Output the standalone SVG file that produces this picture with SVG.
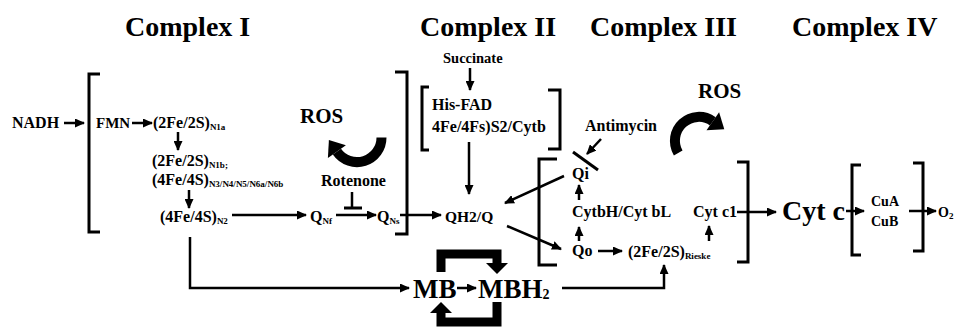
<svg xmlns="http://www.w3.org/2000/svg" width="964" height="328" viewBox="0 0 964 328">
<defs>
<style>
text{font-family:"Liberation Serif","Times New Roman",serif;font-weight:bold;fill:#000}
.title{font-size:28px}
.m{font-size:16px}
.s{font-size:9px}
.br{fill:none;stroke:#000;stroke-width:3}
.ln{fill:none;stroke:#000;stroke-width:2.5}
.ar{fill:none;stroke:#000;stroke-width:2.5;marker-end:url(#ah)}
.thick{fill:none;stroke:#000;stroke-width:9}
.arc{fill:none;stroke:#000;stroke-width:10}
.hd{fill:#000}
</style>
<marker id="ah" markerWidth="10" markerHeight="9" refX="9" refY="4.5" orient="auto" markerUnits="userSpaceOnUse"><path d="M0,0 L10,4.5 L0,9 z" fill="#000"/></marker>
</defs>
<rect width="964" height="328" fill="#fff"/>

<g id="titles">
<text class="title" x="125" y="36">Complex I</text>
<text class="title" x="420" y="36">Complex II</text>
<text class="title" x="590" y="36">Complex III</text>
<text class="title" x="792" y="36">Complex IV</text>
</g>

<g id="brackets">
<path class="br" d="M100,74 H89 V232 H100"/>
<path class="br" d="M395,72 H407 V234 H395"/>
<path class="br" d="M429,87 H422 V150 H429"/>
<path class="br" d="M548,90 H560 V149 H548"/>
<path class="br" d="M557,159 H539 V265 H557"/>
<path class="br" d="M737,162 H748 V262 H737"/>
<path class="br" d="M861,165 H852 V255 H861"/>
<path class="br" d="M913,163 H923 V251 H913"/>
</g>

<g id="connectors">
<path class="ar" d="M64,123 H84"/>
<path class="ar" d="M132,123 H152"/>
<path class="ar" d="M178,132 V150"/>
<path class="ar" d="M189,190 V208"/>
<path class="ar" d="M232,215 H306"/>
<path class="ar" d="M336,215 H376"/>
<path class="ar" d="M400,215 H441"/>
<path class="ln" d="M352,192 V207"/>
<path class="br" d="M344,208 H362"/>
<path class="ar" d="M470,68 V90"/>
<path class="ar" d="M469,142 V194"/>
<path class="ar" d="M564,176 L505,203"/>
<path class="ar" d="M507,226 L561,249"/>
<path class="ar" d="M601,139 L587,154"/>
<path class="br" d="M573,152 L598,170"/>
<path class="ar" d="M579,241 V227"/>
<path class="ar" d="M579,200 V185"/>
<path class="ar" d="M598,251 H622"/>
<path class="ar" d="M709,241 V226"/>
<path class="ar" d="M737,212 H776"/>
<path class="ar" d="M846,211 H864"/>
<path class="ar" d="M909,211 H936"/>
<path class="ar" d="M190,237 V288 H409"/>
<path class="ar" d="M457,288 H476"/>
<path class="ar" d="M562,288 H664 V265"/>
<path class="thick" d="M441,272 V254 H497 V263"/>
<polygon class="hd" points="486,263 508,263 497,274"/>
<path class="thick" d="M497,302 V322 H441 V313"/>
<polygon class="hd" points="430,313 452,313 441,302"/>
<path class="arc" d="M381.5,137.5 A24.5,24.5 0 0 1 336.9,151.6"/>
<polygon class="hd" points="345.9,145.3 327.9,157.9 328.9,140.1"/>
<path class="arc" d="M678.2,153 A24,24 0 0 1 712.8,121.3"/>
<polygon class="hd" points="706.5,130.3 719.1,112.3 724.3,129.3"/>
</g>

<g id="nadh"><text class="m" x="12" y="128">NADH</text></g>
<g id="fmn"><text x="96" y="128" font-size="15">FMN</text></g>
<g id="fes-n1a"><text class="m" x="153" y="128">(2Fe/2S)<tspan class="s" dy="2">N1a</tspan></text></g>
<g id="fes-n1b"><text class="m" x="152" y="166">(2Fe/2S)<tspan class="s" dy="2">N1b;</tspan></text></g>
<g id="fes-n3"><text class="m" x="152" y="185">(4Fe/4S)<tspan class="s" dy="2">N3/N4/N5/N6a/N6b</tspan></text></g>
<g id="fes-n2"><text class="m" x="160" y="222">(4Fe/4S)<tspan class="s" dy="2">N2</tspan></text></g>
<g id="qnf"><text class="m" x="310" y="222">Q<tspan class="s" dy="2">Nf</tspan></text></g>
<g id="qns"><text class="m" x="377" y="222">Q<tspan class="s" dy="2">Ns</tspan></text></g>
<g id="rotenone"><text class="m" x="321" y="186">Rotenone</text></g>
<g id="ros1"><text x="300" y="123" font-size="21">ROS</text></g>
<g id="succinate"><text x="443" y="63" font-size="14.5">Succinate</text></g>
<g id="cii"><text class="m" x="432" y="110">His-FAD</text><text class="m" x="432" y="132">4Fe/4Fs)S2/Cytb</text></g>
<g id="qh2"><text x="445" y="222" font-size="15.5">QH2/Q</text></g>
<g id="antimycin"><text class="m" x="585" y="131">Antimycin</text></g>
<g id="ros2"><text x="698" y="98" font-size="21">ROS</text></g>
<g id="qi"><text class="m" x="572" y="179">Qi</text></g>
<g id="cytb"><text class="m" x="572" y="217">CytbH/Cyt bL</text></g>
<g id="qo"><text class="m" x="572" y="256">Qo</text></g>
<g id="rieske"><text class="m" x="628" y="257">(2Fe/2S)<tspan class="s" dy="2">Rieske</tspan></text></g>
<g id="cytc1"><text class="m" x="693" y="217">Cyt c1</text></g>
<g id="cytc"><text x="782" y="220" font-size="28">Cyt c</text></g>
<g id="cu"><text x="871" y="206" font-size="14">CuA</text><text x="871" y="226" font-size="14">CuB</text></g>
<g id="o2"><text x="938" y="217" font-size="14">O<tspan font-size="9" dy="2">2</tspan></text></g>
<g id="mb"><text x="413" y="298" font-size="27">MB</text></g>
<g id="mbh2"><text x="478" y="298" font-size="27">MBH<tspan font-size="14" dy="1">2</tspan></text></g>
</svg>
